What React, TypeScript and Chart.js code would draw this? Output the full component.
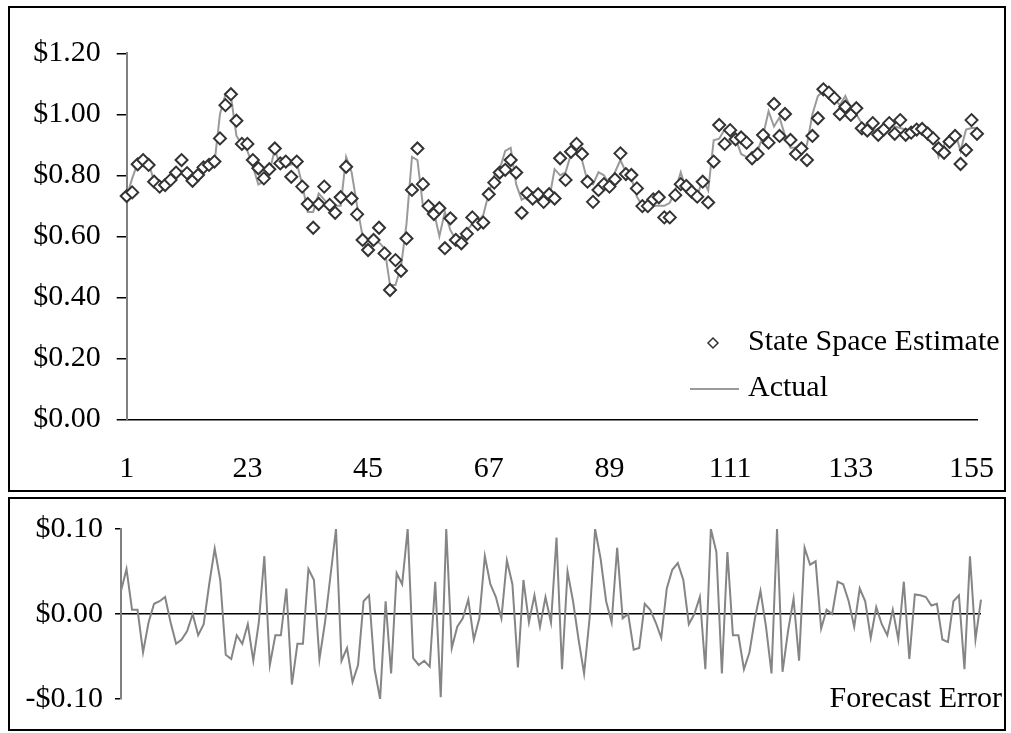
import React, { useEffect, useRef } from "react";
import { Chart, registerables } from "chart.js";

Chart.register(...registerables);

const categories: string[] = Array.from({ length: 156 }, (_, i) => String(i + 1));

const estimate: number[] = [
  0.732, 0.744, 0.836, 0.85, 0.834, 0.779, 0.763, 0.768, 0.785, 0.809,
  0.85, 0.807, 0.782, 0.801, 0.826, 0.834, 0.845, 0.921, 1.03, 1.066,
  0.979, 0.903, 0.903, 0.85, 0.823, 0.79, 0.82, 0.888, 0.839, 0.845,
  0.795, 0.845, 0.763, 0.706, 0.628, 0.706, 0.763, 0.703, 0.677, 0.728,
  0.828, 0.724, 0.672, 0.588, 0.555, 0.588, 0.628, 0.544, 0.424, 0.522,
  0.487, 0.593, 0.752, 0.888, 0.771, 0.699, 0.673, 0.692, 0.561, 0.659,
  0.588, 0.577, 0.608, 0.662, 0.64, 0.645, 0.738, 0.776, 0.809, 0.818,
  0.85, 0.809, 0.677, 0.741, 0.724, 0.738, 0.713, 0.738, 0.724, 0.856,
  0.785, 0.877, 0.903, 0.87, 0.779, 0.713, 0.752, 0.771, 0.763, 0.787,
  0.872, 0.804, 0.801, 0.757, 0.699, 0.699, 0.721, 0.728, 0.662, 0.662,
  0.735, 0.771, 0.765, 0.746, 0.73, 0.779, 0.711, 0.845, 0.965, 0.903,
  0.948, 0.918, 0.924, 0.907, 0.856, 0.87, 0.932, 0.907, 1.034, 0.929,
  1.001, 0.916, 0.87, 0.888, 0.85, 0.929, 0.987, 1.082, 1.071, 1.053,
  1.001, 1.025, 0.998, 1.02, 0.954, 0.947, 0.971, 0.933, 0.95, 0.971,
  0.936, 0.981, 0.933, 0.94, 0.95, 0.952, 0.937, 0.921, 0.888, 0.874,
  0.91, 0.929, 0.837, 0.883, 0.981, 0.936,
];

const actual: number[] = [
  0.73, 0.79, 0.84, 0.855, 0.84, 0.78, 0.765, 0.77, 0.78, 0.8,
  0.815, 0.81, 0.77, 0.8, 0.83, 0.83, 0.84, 1.0, 1.065, 1.06,
  0.93, 0.9, 0.88, 0.83, 0.77, 0.78, 0.81, 0.885, 0.83, 0.83,
  0.835, 0.84, 0.77, 0.68, 0.68, 0.74, 0.72, 0.7, 0.7, 0.7,
  0.86, 0.81, 0.7, 0.6, 0.54, 0.58, 0.58, 0.56, 0.44, 0.44,
  0.5, 0.64, 0.86, 0.85, 0.7, 0.69, 0.68, 0.6, 0.68, 0.62,
  0.59, 0.6, 0.62, 0.64, 0.645, 0.67, 0.74, 0.8, 0.82, 0.88,
  0.89, 0.77, 0.72, 0.73, 0.74, 0.73, 0.73, 0.72, 0.82, 0.8,
  0.81, 0.87, 0.885, 0.85, 0.78, 0.77, 0.81, 0.8, 0.77, 0.81,
  0.85, 0.81, 0.79, 0.73, 0.7, 0.71, 0.7, 0.7, 0.7, 0.71,
  0.75, 0.81, 0.75, 0.74, 0.73, 0.79, 0.75, 0.915, 0.92, 0.95,
  0.95, 0.92, 0.87, 0.86, 0.86, 0.88, 0.93, 1.01, 0.96, 0.99,
  0.93, 0.89, 0.89, 0.88, 0.9, 1.0, 1.06, 1.075, 1.06, 1.05,
  1.03, 1.06, 1.02, 1.0, 0.97, 0.96, 0.95, 0.95, 0.955, 0.955,
  0.96, 0.955, 0.95, 0.95, 0.96, 0.95, 0.94, 0.93, 0.86, 0.9,
  0.93, 0.94, 0.88, 0.95, 0.955, 0.955,
];

const forecastError: number[] = [
  0.027, 0.053, 0.005, 0.005, -0.045, -0.01, 0.012, 0.015, 0.02, -0.01,
  -0.035, -0.03, -0.02, 0.0, -0.025, -0.012, 0.035, 0.077, 0.04, -0.048,
  -0.053, -0.025, -0.035, -0.012, -0.055, -0.01, 0.068, -0.06, -0.025, -0.025,
  0.03, -0.083, -0.035, -0.035, 0.053, 0.04, -0.053, -0.01, 0.045, 0.1,
  -0.055, -0.04, -0.08, -0.06, 0.015, 0.022, -0.065, -0.1, 0.015, -0.07,
  0.048, 0.035, 0.1, -0.052, -0.06, -0.055, -0.062, 0.038, -0.098, 0.1,
  -0.04, -0.015, -0.005, 0.017, -0.03, -0.005, 0.068, 0.035, 0.02, -0.005,
  0.063, 0.035, -0.063, 0.04, -0.01, 0.022, -0.015, 0.02, -0.01, 0.09,
  -0.065, 0.05, 0.015, -0.03, -0.07, -0.005, 0.1, 0.065, 0.015, -0.01,
  0.078, -0.005, 0.0, -0.042, -0.04, 0.012, 0.005, -0.01, -0.028, 0.03,
  0.052, 0.06, 0.04, -0.012, 0.0, 0.02, -0.065, 0.1, 0.073, -0.07,
  0.073, -0.025, -0.025, -0.065, -0.045, -0.005, 0.027, -0.015, -0.07, 0.1,
  -0.068, -0.02, 0.018, -0.055, 0.078, 0.058, 0.062, -0.017, 0.005, 0.0,
  0.038, 0.035, 0.015, -0.015, 0.03, 0.015, -0.028, 0.008, -0.012, -0.025,
  0.005, -0.03, 0.038, -0.053, 0.023, 0.022, 0.02, 0.01, 0.012, -0.03,
  -0.033, 0.015, 0.022, -0.065, 0.068, -0.03, 0.017,
];
const errorCategories: string[] = forecastError.map((_, i) => String(i + 1));

const xTickEvery = 22;
const FONT = { family: "'Liberation Serif', 'Times New Roman', serif", size: 30 };

const TOP_W = 994;
const TOP_H = 482;
const BOT_H = 230;

function fmtMoney(v: number): string {
  if (Math.abs(v) < 1e-9) return "$0.00";
  return (v < 0 ? "-$" : "$") + Math.abs(v).toFixed(2);
}

const topLegendPlugin = {
  id: "topLegend",
  afterDraw(chart: any) {
    const ctx = chart.ctx;
    ctx.save();
    ctx.font = `30px ${FONT.family}`;
    ctx.textBaseline = "middle";
    ctx.textAlign = "left";
    const cx = 703, cy = 335, r = 5;
    ctx.beginPath();
    ctx.moveTo(cx, cy - r);
    ctx.lineTo(cx + r, cy);
    ctx.lineTo(cx, cy + r);
    ctx.lineTo(cx - r, cy);
    ctx.closePath();
    ctx.fillStyle = "#fff";
    ctx.fill();
    ctx.strokeStyle = "#333";
    ctx.lineWidth = 1.5;
    ctx.stroke();
    ctx.fillStyle = "#000";
    ctx.fillText(chart.data.datasets[0].label, 738, 334);
    ctx.beginPath();
    ctx.moveTo(680, 381);
    ctx.lineTo(729, 381);
    ctx.strokeStyle = "#9a9a9a";
    ctx.lineWidth = 2;
    ctx.stroke();
    ctx.fillText(chart.data.datasets[1].label, 738, 380);
    ctx.restore();
  },
};

const bottomLegendPlugin = {
  id: "bottomLegend",
  afterDraw(chart: any) {
    const ctx = chart.ctx;
    ctx.save();
    ctx.font = `30px ${FONT.family}`;
    ctx.fillStyle = "#000";
    ctx.textBaseline = "middle";
    ctx.textAlign = "right";
    ctx.fillText(chart.data.datasets[0].label, 992, chart.chartArea.bottom);
    ctx.restore();
  },
};

export default function App() {
  const topRef = useRef<HTMLCanvasElement>(null);
  const botRef = useRef<HTMLCanvasElement>(null);

  useEffect(() => {
    const top = new Chart(topRef.current as HTMLCanvasElement, {
      type: "line",
      data: {
        labels: categories,
        datasets: [
          {
            label: "State Space Estimate",
            data: estimate,
            showLine: false,
            pointStyle: "rectRot",
            pointRadius: 6,
            pointBorderWidth: 2,
            pointBorderColor: "#333",
            pointBackgroundColor: "#fff",
            borderColor: "#333",
            backgroundColor: "#fff",
          },
          {
            label: "Actual",
            data: actual,
            borderColor: "#9a9a9a",
            borderWidth: 2,
            pointRadius: 0,
            tension: 0,
            fill: false,
          },
        ],
      },
      options: {
        animation: false,
        responsive: false,
        devicePixelRatio: 1,
        layout: { padding: { left: 0, top: 45.3, right: 27, bottom: 0 } },
        plugins: { legend: { display: false }, tooltip: { enabled: false } },
        scales: {
          x: {
            type: "category",
            offset: false,
            grid: { display: false },
            border: { display: true, color: "#000", width: 1.5 },
            ticks: {
              autoSkip: false,
              maxRotation: 0,
              padding: 24,
              color: "#000",
              font: FONT,
              callback: (_v: any, i: number) => (i % xTickEvery === 0 ? categories[i] : ""),
            },
            afterFit: (s: any) => {
              s.height = TOP_H - 411.3;
            },
          },
          y: {
            min: 0,
            max: 1.2,
            ticks: {
              stepSize: 0.2,
              padding: 16,
              color: "#000",
              font: FONT,
              callback: (v: any) => fmtMoney(Number(v)),
            },
            grid: { drawOnChartArea: false, drawTicks: true, tickLength: 10, color: "#000", lineWidth: 1.5 },
            border: { display: true, color: "#808080", width: 2 },
            afterFit: (s: any) => {
              s.width = 116.7;
            },
          },
        },
      },
      plugins: [topLegendPlugin],
    } as any);

    const bot = new Chart(botRef.current as HTMLCanvasElement, {
      type: "line",
      data: {
        labels: errorCategories,
        datasets: [
          {
            label: "Forecast Error",
            data: forecastError,
            borderColor: "#858585",
            borderWidth: 2,
            pointRadius: 0,
            tension: 0,
            fill: false,
          },
        ],
      },
      options: {
        animation: false,
        responsive: false,
        devicePixelRatio: 1,
        layout: { padding: { left: 0, top: 21, right: 23, bottom: 21 } },
        plugins: { legend: { display: false }, tooltip: { enabled: false } },
        scales: {
          x: { type: "category", offset: false, display: false },
          y: {
            min: -0.1,
            max: 0.1,
            ticks: {
              stepSize: 0.1,
              padding: 12,
              color: "#000",
              font: FONT,
              callback: (v: any) => fmtMoney(Number(v)),
            },
            grid: {
              drawOnChartArea: true,
              drawTicks: true,
              tickLength: 6,
              lineWidth: 1.5,
              color: (c: any) => (c.tick && Math.abs(c.tick.value) < 1e-9 ? "#000" : "rgba(0,0,0,0)"),
              tickColor: "#000",
            },
            border: { display: true, color: "#808080", width: 2 },
            afterFit: (s: any) => {
              s.width = 111;
            },
          },
        },
      },
      plugins: [bottomLegendPlugin],
    } as any);

    return () => {
      top.destroy();
      bot.destroy();
    };
  }, []);

  return (
    <div style={{ position: "absolute", left: 0, top: 0, width: 1011, height: 733, background: "#fff" }}>
      <div style={{ position: "absolute", left: 8, top: 6, width: TOP_W, height: TOP_H, border: "2px solid #000" }}>
        <canvas ref={topRef} width={TOP_W} height={TOP_H} style={{ display: "block" }} />
      </div>
      <div style={{ position: "absolute", left: 8, top: 497, width: TOP_W, height: BOT_H, border: "2px solid #000" }}>
        <canvas ref={botRef} width={TOP_W} height={BOT_H} style={{ display: "block" }} />
      </div>
    </div>
  );
}
